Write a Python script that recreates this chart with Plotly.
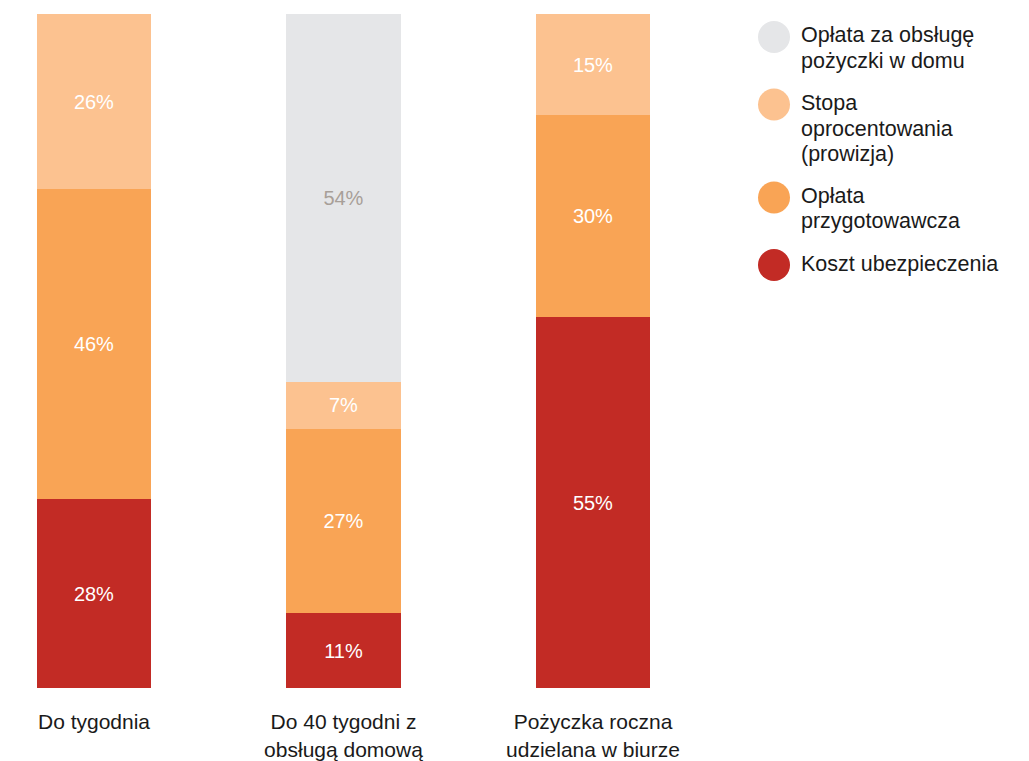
import plotly.graph_objects as go

# Loan types (x categories)
categories = ["Do tygodnia", "Do 40 tygodni z<br>obsługą domową", "Pożyczka roczna<br>udzielana w biurze"]

# Cost components, share of total cost in percent (None = component absent)
insurance = [28, 11, 55]          # Koszt ubezpieczenia
preparation = [46, 27, 30]        # Opłata przygotowawcza
interest = [26, 7, 15]            # Stopa oprocentowania (prowizja)
home_service = [None, 54, None]   # Opłata za obsługę pożyczki w domu

series = [
    ("Koszt ubezpieczenia", insurance, "#C22B25", "#FFFFFF"),
    ("Opłata przygotowawcza", preparation, "#F9A455", "#FFFFFF"),
    ("Stopa oprocentowania (prowizja)", interest, "#FCC290", "#FFFFFF"),
    ("Opłata za obsługę pożyczki w domu", home_service, "#E5E6E8", "#A89F98"),
]

# Legend entries, top to bottom, as displayed lines
legend_items = [
    (["Opłata za obsługę", "pożyczki w domu"], "#E5E6E8"),
    (["Stopa", "oprocentowania", "(prowizja)"], "#FCC290"),
    (["Opłata", "przygotowawcza"], "#F9A455"),
    (["Koszt ubezpieczenia"], "#C22B25"),
]

W, H = 1029, 761
TOP, BOTTOM = 14, 688
FONT = "Liberation Sans, Arial, sans-serif"

x_pos = list(range(len(categories)))
unit_px = 249.5
first_center_px = 94

fig = go.Figure()
for name, vals, color, tcolor in series:
    fig.add_trace(go.Bar(
        x=x_pos,
        y=vals,
        name=name,
        marker=dict(color=color, line=dict(width=0)),
        width=0.457,
        text=[f"{v}%" if v is not None else "" for v in vals],
        texttemplate="%{text}",
        textposition="inside",
        insidetextanchor="middle",
        textangle=0,
        textfont=dict(family=FONT, size=20, color=tcolor),
        showlegend=False,
        hoverinfo="skip",
    ))


def py_to_paper(py):
    return 1 - (py - TOP) / (BOTTOM - TOP)


# Hand-drawn legend: large circles with multi-line labels
shapes = []
annotations = []
cx_px, r_px, text_x_px = 774, 16, 799
line_h = 25.5
item_gap = 42
item_y = 37
for lines, color in legend_items:
    shapes.append(dict(
        type="circle", xref="paper", yref="paper",
        x0=(cx_px - r_px) / W, x1=(cx_px + r_px) / W,
        y0=py_to_paper(item_y + r_px), y1=py_to_paper(item_y - r_px),
        fillcolor=color, line=dict(width=0),
    ))
    for i, line in enumerate(lines):
        ly = item_y - 1.5 + i * line_h
        annotations.append(dict(
            text=line, xref="paper", yref="paper",
            x=text_x_px / W, y=py_to_paper(ly),
            xanchor="left", yanchor="middle", showarrow=False,
            font=dict(family=FONT, size=21.5, color="#1A1A1A"),
        ))
    item_y += (len(lines) - 1) * line_h + item_gap

fig.update_layout(
    width=W, height=H,
    margin=dict(l=0, r=0, t=TOP, b=H - BOTTOM),
    barmode="stack",
    barnorm="percent",
    plot_bgcolor="white",
    paper_bgcolor="white",
    shapes=shapes,
    annotations=annotations,
    xaxis=dict(
        range=[-first_center_px / unit_px, (W - first_center_px) / unit_px],
        tickvals=x_pos, ticktext=categories,
        showgrid=False, zeroline=False, showline=False,
        ticks="outside", ticklen=15, tickcolor="rgba(0,0,0,0)",
        tickfont=dict(family=FONT, size=21, color="#1A1A1A"),
    ),
    yaxis=dict(range=[0, 100], visible=False, showgrid=False),
)

fig.write_html("out.html")
